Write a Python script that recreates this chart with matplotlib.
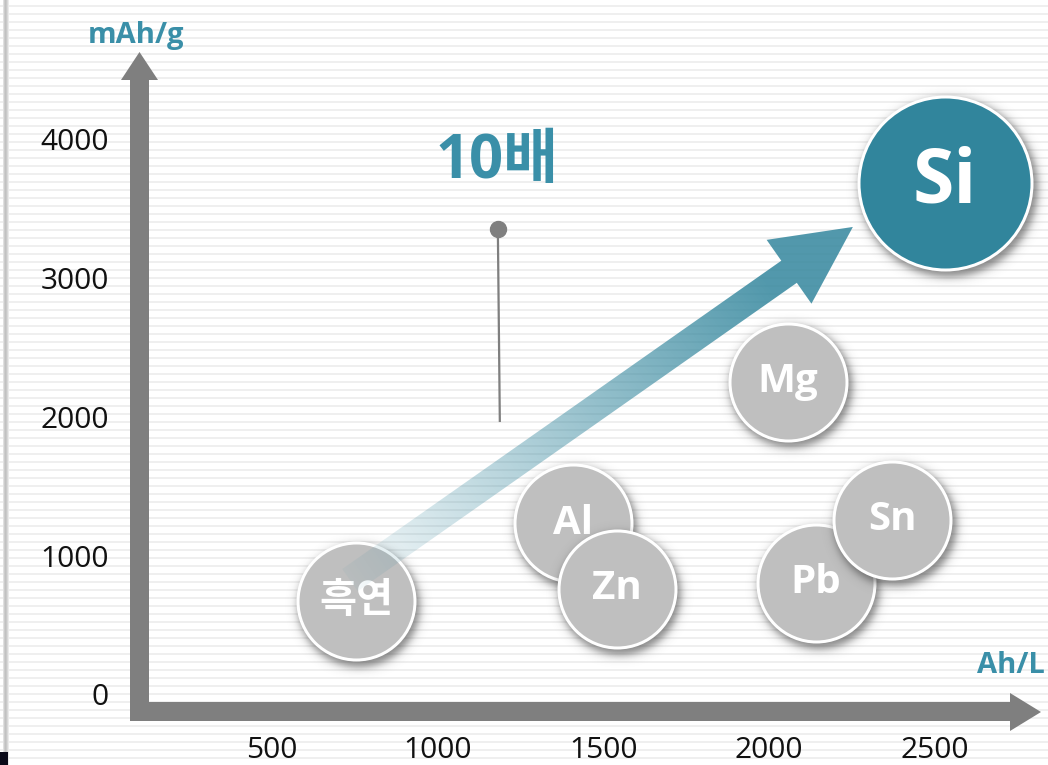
import numpy as np
import matplotlib
matplotlib.use('Agg')
import matplotlib.pyplot as plt
from matplotlib.transforms import Affine2D
from matplotlib.patches import Polygon

# ---------------- data ----------------
materials = ['흑연', 'Al', 'Zn', 'Mg', 'Pb', 'Sn', 'Si']
vol_capacity = [754, 1409, 1541, 2056, 2142, 2371, 2531]      # Ah/L
grav_capacity = [699, 1261, 786, 2281, 829, 1283, 3712]       # mAh/g
highlight = [False, False, False, False, False, False, True]
x_ticks = [500, 1000, 1500, 2000, 2500]
y_ticks = [0, 1000, 2000, 3000, 4000]
x_unit = 'Ah/L'
y_unit = 'mAh/g'
ratio_label = '10배'
ratio_label_pos = [1179, 3856]
pin_x = [1182, 1188]
pin_y = [3380, 1989]
arrow_x = [736, 2253]
arrow_y = [850, 3395]

# ---------------- style ----------------
W, H = 1048, 765
TEAL = '#31859c'
TEAL_TXT = '#3a8fa8'
GRAY = '#bfbfbf'
AXIS_GRAY = '#7f7f7f'

plt.rcParams['font.family'] = ['Open Sans', 'Noto Sans CJK KR', 'DejaVu Sans']

fig = plt.figure(figsize=(W / 100, H / 100), dpi=100)
ax = fig.add_axes([0, 0, 1, 1])
ax.set_axis_off()
XL = (-319.8, 2841.6)
YL = (-482.9, 5030.6)
ax.set_xlim(*XL)
ax.set_ylim(*YL)

px = Affine2D().scale(1, -1).translate(0, H)   # image-pixel coords (top-left origin)
inv = ax.transData.inverted()


def to_px(x, y):
    d = ax.transData.transform((x, y))
    return d[0], H - d[1]


def px_to_data(x, y):
    return inv.transform((x, H - y))

# ---------------- background ----------------
bg = np.ones((H, W, 3))
rows = np.arange(H)
stripe = ((rows - 5) % 8 == 0) | ((rows - 5) % 8 == 1)
bg[stripe, :, :] = 0.94
for c, v in zip(range(3, 9), [0.88, 0.80, 0.76, 0.79, 0.85, 0.92]):
    bg[:, c, :] = v
bg[752:, 0:8, :] = [0.04, 0.04, 0.10]
ax.imshow(bg, extent=(XL[0], XL[1], YL[0], YL[1]), origin='upper',
          zorder=0, aspect='auto', interpolation='nearest')

# ---------------- axes arrows ----------------
vert = [(130, 721), (130, 80), (121, 80), (139.5, 52), (158, 80), (149, 80), (149, 721)]
horiz = [(130, 702), (1010, 702), (1010, 693), (1041, 712), (1010, 731), (1010, 721), (130, 721)]
for pts in (vert, horiz):
    ax.add_patch(Polygon(pts, closed=True, transform=px, facecolor=AXIS_GRAY,
                         edgecolor='none', zorder=1))

# tick labels
for t in x_ticks:
    ax.text(t, -375, f'{t}', ha='center', va='center', fontsize=21.5,
            color='#111111', zorder=2)
for t in y_ticks:
    ax.text(9, t, f'{t}', ha='right', va='center', fontsize=21.5,
            color='#111111', zorder=2)

x0, y0 = px_to_data(1010.5, 673)
ax.text(x0, y0, x_unit, ha='center', va='baseline', fontsize=21,
        fontweight='bold', color=TEAL_TXT, zorder=2)
x0, y0 = px_to_data(135.5, 43)
ax.text(x0, y0, y_unit, ha='center', va='baseline', fontsize=21,
        fontweight='bold', color=TEAL_TXT, zorder=2)

# ---------------- pin + ratio label ----------------
ax.plot(pin_x, pin_y, color=AXIS_GRAY, lw=1.6, zorder=2, solid_capstyle='butt')
ax.plot(pin_x[:1], pin_y[:1], 'o', color=AXIS_GRAY, markersize=11.5, zorder=2.1)
ax.text(ratio_label_pos[0], ratio_label_pos[1], ratio_label, ha='center',
        va='center', fontsize=43, fontweight='bold', color=TEAL_TXT, zorder=2)


# ---------------- circles ----------------
def shadow(cx, cy, r, z, dx=3, dy=5, soft=2.6, amax=0.6):
    pad = 22
    xa, xb = int(cx - r - pad), int(cx + r + pad)
    ya, yb = int(cy - r - pad), int(cy + r + pad)
    xs = np.arange(xa, xb) + 0.5
    ys = np.arange(ya, yb) + 0.5
    X, Y = np.meshgrid(xs, ys)
    d = np.hypot(X - (cx + dx), Y - (cy + dy))
    a = amax / (1 + np.exp((d - (r + 1)) / soft))
    img = np.zeros((len(ys), len(xs), 4))
    img[..., :3] = 0.22
    img[..., 3] = a
    bl = px_to_data(xa, yb)
    tr = px_to_data(xb, ya)
    ax.imshow(img, extent=(bl[0], tr[0], bl[1], tr[1]), origin='upper',
              zorder=z, aspect='auto', interpolation='bilinear')


def arrow(z):
    S = np.array(to_px(arrow_x[0], arrow_y[0]))
    T = np.array(to_px(arrow_x[1], arrow_y[1]))
    L = np.linalg.norm(T - S)
    u = (T - S) / L
    n = np.array([-u[1], u[0]])
    hw, HW, HL = 13.5, 39, 78
    B = T - u * HL
    pts = [S + n * hw, B + n * hw, B + n * HW, T, B - n * HW, B - n * hw, S - n * hw]
    pts_d = [px_to_data(p[0], p[1]) for p in pts]
    poly = Polygon(pts_d, closed=True, facecolor='none', edgecolor='none', zorder=z)
    ax.add_patch(poly)
    arr = np.array(pts)
    xa, xb = int(arr[:, 0].min()) - 2, int(arr[:, 0].max()) + 2
    ya, yb = int(arr[:, 1].min()) - 2, int(arr[:, 1].max()) + 2
    xs = np.arange(xa, xb) + 0.5
    ys = np.arange(ya, yb) + 0.5
    X, Y = np.meshgrid(xs, ys)
    t = ((X - S[0]) * u[0] + (Y - S[1]) * u[1]) / L
    a = np.clip(0.05 + 0.95 * t, 0.03, 0.84)
    img = np.zeros((len(ys), len(xs), 4))
    img[..., 0] = 0x31 / 255
    img[..., 1] = 0x85 / 255
    img[..., 2] = 0x9c / 255
    img[..., 3] = a
    bl = px_to_data(xa, yb)
    tr = px_to_data(xb, ya)
    im = ax.imshow(img, extent=(bl[0], tr[0], bl[1], tr[1]), origin='upper',
                   zorder=z, aspect='auto', interpolation='bilinear')
    im.set_clip_path(poly)


z = 3
for i, (name, xv, yv, hl) in enumerate(zip(materials, vol_capacity, grav_capacity, highlight)):
    cx, cy = to_px(xv, yv)
    r = 88 if hl else 60
    shadow(cx, cy, r, z)
    d_pt = (2 * r - 3) * 0.72
    ax.scatter([xv], [yv], s=d_pt ** 2, color=TEAL if hl else GRAY,
               edgecolor='white', linewidth=3 * 0.72, zorder=z + 0.5)
    ax.text(xv, yv, name, ha='center', va='center', color='white',
            fontsize=54 if hl else 29, fontweight='bold', zorder=z + 0.7)
    z += 2
    if i == 0:
        arrow(z)
        z += 1

ax.set_xlim(*XL)
ax.set_ylim(*YL)
fig.savefig('out.png', dpi=100)
